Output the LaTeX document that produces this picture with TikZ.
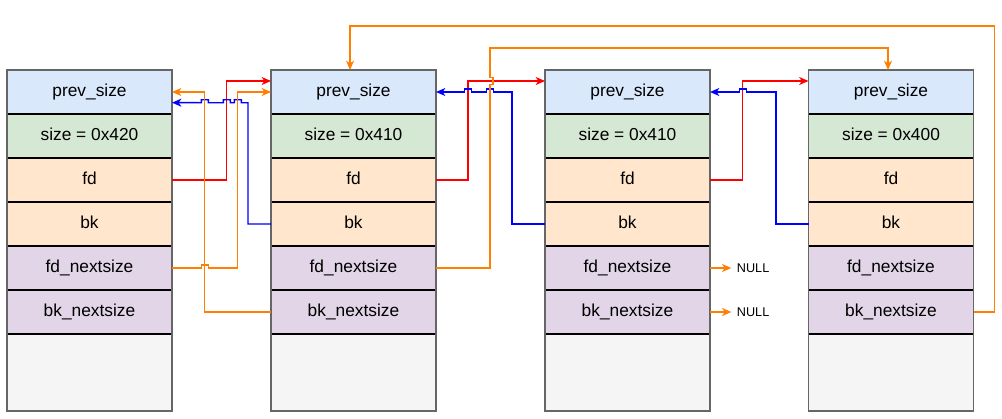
\documentclass[tikz,border=0pt]{standalone}
\usepackage{fontspec}
\setmainfont{Liberation Sans}
\usetikzlibrary{arrows.meta,positioning}

\definecolor{prevfill}{HTML}{DAE8FC}
\definecolor{sizefill}{HTML}{D5E8D4}
\definecolor{linkfill}{HTML}{FFE6CC}
\definecolor{nextfill}{HTML}{E1D5E7}
\definecolor{freefill}{HTML}{F5F5F5}
\definecolor{fdred}{HTML}{FF0000}
\definecolor{bkblue}{HTML}{0000FF}
\definecolor{nextorange}{HTML}{FF8000}
\definecolor{framegray}{HTML}{666666}

% small square line jumps
\newcommand{\jumpleft}{-- ++(0,-3) -- ++(-7,0) -- ++(0,3)}
\newcommand{\jumpright}{-- ++(0,-3) -- ++(7,0) -- ++(0,3)}
\newcommand{\jumpup}{-- ++(3,0) -- ++(0,-7) -- ++(-3,0)}

\begin{document}
\begin{tikzpicture}[x=0.75pt,y=-0.75pt,node distance=33pt,
    field/.style={rectangle,draw=black,line width=0.8pt,minimum width=123.75pt,minimum height=33pt,inner sep=0pt,outer sep=0pt,text height=0.6em,text depth=0pt,font=\fontsize{13}{15}\selectfont},
    link/.style={line width=1.05pt,-{Stealth[length=7pt,width=6pt,inset=2pt]}},
    nulltext/.style={inner sep=4pt,font=\fontsize{9.5}{11}\selectfont}]
\useasboundingbox (0,0) rectangle (1002,418);

% chunk 1
\node[field,fill=prevfill] (prev1) at (89.5,92) {prev\_size};
\node[field,fill=sizefill] (size1) [below of = prev1] {size = 0x420};
\node[field,fill=linkfill] (fd1) [below of = size1] {fd};
\node[field,fill=linkfill] (bk1) [below of = fd1] {bk};
\node[field,fill=nextfill] (fdn1) [below of = bk1] {fd\_nextsize};
\node[field,fill=nextfill] (bkn1) [below of = fdn1] {bk\_nextsize};
\node[field,fill=freefill,minimum height=57.75pt] (free1) [below of = bkn1, yshift=-12.375pt] {};

% chunk 2
\node[field,fill=prevfill] (prev2) at (353.5,92) {prev\_size};
\node[field,fill=sizefill] (size2) [below of = prev2] {size = 0x410};
\node[field,fill=linkfill] (fd2) [below of = size2] {fd};
\node[field,fill=linkfill] (bk2) [below of = fd2] {bk};
\node[field,fill=nextfill] (fdn2) [below of = bk2] {fd\_nextsize};
\node[field,fill=nextfill] (bkn2) [below of = fdn2] {bk\_nextsize};
\node[field,fill=freefill,minimum height=57.75pt] (free2) [below of = bkn2, yshift=-12.375pt] {};

% chunk 3
\node[field,fill=prevfill] (prev3) at (627.5,92) {prev\_size};
\node[field,fill=sizefill] (size3) [below of = prev3] {size = 0x410};
\node[field,fill=linkfill] (fd3) [below of = size3] {fd};
\node[field,fill=linkfill] (bk3) [below of = fd3] {bk};
\node[field,fill=nextfill] (fdn3) [below of = bk3] {fd\_nextsize};
\node[field,fill=nextfill] (bkn3) [below of = fdn3] {bk\_nextsize};
\node[field,fill=freefill,minimum height=57.75pt] (free3) [below of = bkn3, yshift=-12.375pt] {};

% chunk 4
\node[field,fill=prevfill] (prev4) at (891,92) {prev\_size};
\node[field,fill=sizefill] (size4) [below of = prev4] {size = 0x400};
\node[field,fill=linkfill] (fd4) [below of = size4] {fd};
\node[field,fill=linkfill] (bk4) [below of = fd4] {bk};
\node[field,fill=nextfill] (fdn4) [below of = bk4] {fd\_nextsize};
\node[field,fill=nextfill] (bkn4) [below of = fdn4] {bk\_nextsize};
\node[field,fill=freefill,minimum height=57.75pt] (free4) [below of = bkn4, yshift=-12.375pt] {};

\draw[framegray,line width=1.1pt] (prev1.north west) rectangle (free1.south east);
\draw[framegray,line width=1.1pt] (prev2.north west) rectangle (free2.south east);
\draw[framegray,line width=1.1pt] (prev3.north west) rectangle (free3.south east);
\draw[framegray,line width=1.1pt] (prev4.north west) rectangle (free4.south east);

\node[nulltext,right=16pt of fdn3] (null1) {NULL};
\node[nulltext,right=16pt of bkn3] (null2) {NULL};

% fd links
\draw[link,fdred] (fd1.east) -- ++(54.7,0) |- ([yshift=8.25pt]prev2.west);
\draw[link,fdred] (fd2.east) -- ++(32,0) |- ([yshift=8.25pt]prev3.west);
\draw[link,fdred] (fd3.east) -- ++(32.7,0) |- ([yshift=8.25pt]prev4.west);

% bk links
\draw[link,bkblue] (bk2.west) -- ++(-23,0) -- ++(0,-121.3) -- ++(-6.7,0) \jumpleft -- ++(-4,0) \jumpleft -- ++(-15,0) \jumpleft -- ([yshift=-8pt]prev1.east);
\draw[link,bkblue] (bk3.west) -- ++(-33,0) -- ++(0,-132) -- ++(-18.7,0) \jumpleft -- ++(-14.8,0) \jumpleft -- (prev2.east);
\draw[link,bkblue] (bk4.west) -- ++(-32.5,0) -- ++(0,-132) -- ++(-29.7,0) \jumpleft -- (prev3.east);

% nextsize links
\draw[link,nextorange] (fdn1.east) -- ++(29.2,0) \jumpright -- ++(29.5,0) |- (prev2.west);
\draw[link,nextorange] (bkn2.west) -- ++(-66.3,0) |- (prev1.east);
\draw[link,nextorange] (fdn2.east) -- ++(54,0) -- ++(0,-183.3) \jumpup |- ([xshift=-2.25pt,yshift=16.5pt]prev4.north) -- ([xshift=-2.25pt]prev4.north);
\draw[link,nextorange] (bkn4.east) -- ++(21,0) |- ([xshift=-2.625pt,yshift=33pt]prev2.north) -- ([xshift=-2.625pt]prev2.north);
\draw[link,nextorange] (fdn3.east) -- (null1.west);
\draw[link,nextorange] (bkn3.east) -- (null2.west);
\end{tikzpicture}
\end{document}
